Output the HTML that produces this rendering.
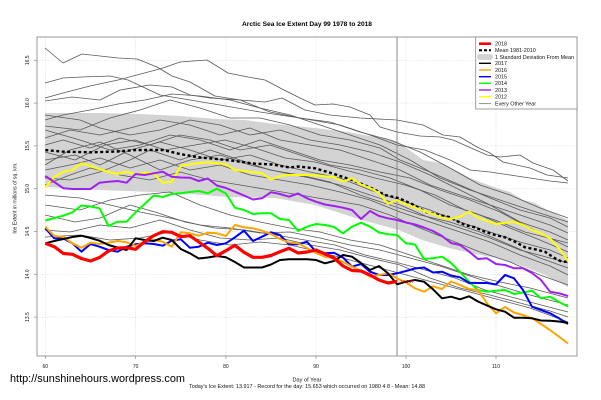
<!DOCTYPE html>
<html><head><meta charset="utf-8"><style>
html,body{margin:0;padding:0;background:#fff;}
svg{display:block;font-family:"Liberation Sans",Arial,sans-serif;}
</style></head><body>
<svg width="601" height="400" viewBox="0 0 601 400" xmlns="http://www.w3.org/2000/svg">
<rect x="0" y="0" width="601" height="400" fill="#fff"/>
<!-- title -->
<text x="307" y="26" font-size="6.6" font-weight="bold" text-anchor="middle" textLength="130" lengthAdjust="spacingAndGlyphs">Arctic Sea Ice Extent Day 99 1978 to 2018</text>

<!-- std band -->
<polygon fill="#d3d3d3" points="45.3,113 100,113 140,114 180,116 217,119 245,120 275,124 315,128 348,132 397,141 423,160 440,163 457,171 470,178 480,182 497,188 510,192 523,200 535,203 547,210 568,220 568,287 545,275 520,265 497,258 480,255 449,248 422,240 399,230 362,220 315,205 275,198 228,197 177,193 100,190 45.3,187"/>

<!-- grid -->
<g stroke="#d8d8d8" stroke-width="0.7" stroke-dasharray="1,1.5">
<line x1="45.3" y1="37" x2="45.3" y2="356"/>
<line x1="135.6" y1="37" x2="135.6" y2="356"/>
<line x1="225.9" y1="37" x2="225.9" y2="356"/>
<line x1="316" y1="37" x2="316" y2="356"/>
<line x1="406" y1="37" x2="406" y2="356"/>
<line x1="496" y1="37" x2="496" y2="356"/>
<line x1="37" y1="60.3" x2="577" y2="60.3"/>
<line x1="37" y1="103.1" x2="577" y2="103.1"/>
<line x1="37" y1="145.9" x2="577" y2="145.9"/>
<line x1="37" y1="188.7" x2="577" y2="188.7"/>
<line x1="37" y1="231.5" x2="577" y2="231.5"/>
<line x1="37" y1="274.3" x2="577" y2="274.3"/>
<line x1="37" y1="317.1" x2="577" y2="317.1"/>
</g>

<!-- gray every-other-year lines -->
<g fill="none" stroke="#595959" stroke-width="0.8" stroke-linejoin="round">
<polyline points="45,48 63,63 82,54 100,56 118,58 137,59 157,67 172,76 190,82 215,96 240,100 265,102 282,98 305,110 330,115 360,118 397,120 423,125 443,135 460,137 477,147 490,153 503,162 530,168 547,175 568,178"/>
<polyline points="45,98 63,93 90,86 118,80 137,75 163,68 180,62 207,60 228,73 248,77 265,80 282,89 300,98 315,105 333,104 350,107 370,115 380,127 397,132 420,136 440,137 453,140 487,155 500,157 520,155 533,163 553,170 568,181"/>
<polyline points="45,83 63,78 82,77 110,76 128,80 160,95 190,100 220,105 260,112 300,118 340,125 370,135 397,145 425,150 450,160 470,170 490,172 510,175 530,178 550,181 568,183"/>
<polyline points="45,101 72,97 100,100 120,90 150,85 172,87 190,95 210,98 240,100 270,112 300,118 330,122 360,132 390,140 420,152 450,168 480,185 510,195 540,208 568,218"/>
<polyline points="45,120 63,115 90,110 118,104 145,100 172,94 200,96 230,100 260,108 290,115 320,125 350,135 380,145 410,160 440,178 470,190 500,200 530,210 568,222"/>
<polyline points="45,126 80,130 110,118 140,110 170,100 200,108 230,118 260,118 290,125 320,135 350,140 380,148 400,160 430,172 460,185 490,198 520,210 550,218 568,227"/>
<polyline points="45,115 80,120 100,128 130,135 160,130 190,120 220,125 250,135 280,130 310,140 340,145 370,152 400,162 430,175 460,190 490,205 520,215 550,225 568,233"/>
<polyline points="45,138 70,130 100,135 130,128 160,120 190,125 220,135 250,128 280,140 310,145 340,150 370,160 400,170 430,185 460,195 490,205 520,222 550,232 568,240"/>
<polyline points="45,130 80,140 110,150 140,145 170,135 200,140 230,150 260,140 290,150 320,160 350,165 380,172 410,178 440,190 470,200 500,212 530,228 568,247"/>
<polyline points="45,145 63,140 90,148 120,138 150,145 180,135 210,140 240,150 270,145 300,155 330,165 360,170 390,178 420,190 450,205 480,215 510,228 540,240 568,252"/>
<polyline points="45,160 75,155 100,165 130,150 160,142 190,150 220,160 250,155 280,165 310,172 340,178 370,190 400,200 430,210 460,222 490,232 520,242 550,250 568,258"/>
<polyline points="45,178 70,180 100,172 130,160 150,150 180,160 210,150 240,160 270,170 300,175 330,182 360,195 390,205 420,215 450,222 480,232 510,245 540,258 568,268"/>
<polyline points="45,170 70,165 100,158 130,168 160,160 190,170 220,165 250,175 280,180 310,185 340,192 370,200 400,212 430,222 460,232 490,242 520,255 550,266 568,275"/>
<polyline points="45,185 70,175 90,168 120,175 150,180 180,172 210,180 240,185 270,190 300,195 330,200 360,205 390,215 420,228 450,240 480,252 510,262 540,275 568,285"/>
<polyline points="45,152 75,160 105,145 135,140 165,150 195,145 225,140 255,148 285,158 315,162 345,170 375,178 405,185 435,195 465,210 495,220 525,232 568,243"/>
<polyline points="45,165 70,150 100,142 130,155 160,170 190,160 220,155 250,165 280,172 310,178 340,185 370,195 400,205 430,218 460,228 490,238 520,250 550,258 568,263"/>
<polyline points="45,205 80,210 110,200 140,195 170,192 200,205 230,215 260,222 290,228 320,232 350,240 380,245 410,255 440,265 470,275 500,282 530,288 568,298"/>
<polyline points="45,195 80,198 110,205 140,212 170,218 200,225 230,228 260,233 290,232 320,238 350,245 380,250 410,258 440,266 470,276 500,286 530,295 568,305"/>
<polyline points="45,215 75,222 100,218 130,205 155,212 185,222 215,228 245,230 275,235 305,240 335,245 365,255 395,262 425,270 455,278 485,290 515,298 545,306 568,312"/>
<polyline points="45,230 70,232 100,225 130,228 160,220 190,230 220,238 250,240 280,238 310,245 340,250 370,258 400,265 430,278 460,288 490,295 520,303 550,311 568,317"/>
<polyline points="45,237 80,235 110,240 140,238 170,232 200,240 230,245 260,242 290,245 320,252 350,260 380,268 410,276 440,284 470,292 500,300 530,308 568,322"/>
</g>

<!-- day 99 vertical line -->
<line x1="397" y1="37" x2="397" y2="356" stroke="#888" stroke-width="1"/>

<!-- mean -->
<polyline fill="none" stroke="#000" stroke-width="2.4" stroke-dasharray="3,2.5" points="45.3,150 63.4,151.7 91,152.3 117,151.5 136,150 163,150 180,154 200,157.5 217,159 235,161 253,163.5 272,164.5 290,167.5 298,166.5 315,168.3 332,173.3 352,180 372,188.3 385,195 399,198.3 412,204 425,211.7 439,215 449,217 465,225 475,227.3 485,231.7 495,235 505,237.3 515,241.7 525,247.3 535,249.3 545,251.7 555,258.3 562,261.7 568,261.7"/>

<g fill="none" stroke-width="2" stroke-linejoin="round">
<!-- 2012 yellow -->
<polyline stroke="#ffff00" points="45.3,187.3 54.3,177 63.4,171.7 72.4,170 81.4,163.3 90.5,166 99.5,169.3 108.5,172 117.5,174 126.6,171.7 135.6,174.3 144.6,172.7 153.7,173.3 162.7,182.7 171.7,181.7 180.8,166 189.8,164.3 198.8,163.3 207.8,162.3 216.9,163.3 225.9,164.3 234.9,170 244,171 253,172.3 262,173.3 271,179.3 280,176 289,175 298,175 307,175 316,175.5 325,176.3 334,177 343,181.7 352,178.3 361,184.5 370,188 379,193 388,204 397,200 406,204 415,207.5 424,211 433,214 442,217.5 451,219 460,216.7 469,211.7 478,217.5 487,221 496,224 505,222.7 514,221.7 523,225 532,230 541,233.3 550,238.3 559,248.3 568,261"/>
<!-- 2013 purple -->
<polyline stroke="#a020f0" points="45.3,176 54.3,182 63.4,188.3 72.4,189 81.4,189 90.5,189 99.5,182.7 108.5,181.7 117.5,181 126.6,182.7 135.6,174 144.6,175 153.7,173.3 162.7,171.7 171.7,176.7 180.8,177.5 189.8,177.7 198.8,181 207.8,178.5 216.9,185.5 225.9,188 234.9,191.7 244,195.5 253,199.5 262,198.3 271,192.2 280,194 289,196.7 298,193.5 307,198.3 316,201.7 325,204.5 334,206 343,207.7 352,210 361,219 370,211 379,216 388,218.3 397,220 406,222.5 415,224.5 424,227.5 433,231 442,236 451,243 460,245 469,251.5 478,259 487,258.3 496,264 505,265 514,268.3 523,268.3 532,273 541,280 550,291.7 559,293.3 568,296"/>
<!-- 2014 green -->
<polyline stroke="#00ff00" points="45.3,220.5 54.3,218 63.4,215.7 72.4,212.3 81.4,205.5 90.5,206.5 99.5,208.3 108.5,226 117.5,221.7 126.6,221.7 135.6,212.3 144.6,204 153.7,195.5 162.7,197 171.7,194 180.8,193.3 189.8,192 198.8,191 207.8,193.3 216.9,188.7 225.9,193.5 234.9,207.7 244,210 253,214 262,213.3 271,213.3 280,219 289,220 298,231 307,226.7 316,224 325,225 334,227 343,233.3 352,226.7 361,222.7 370,226.7 379,232.5 388,234.3 397,235 406,243.3 415,244.5 424,259 433,258.3 442,256.7 451,263 460,272 469,281.7 478,290 487,291.7 496,290.7 505,290 514,294 523,292.5 532,290.7 541,298.3 550,296.7 559,302 568,306.5"/>
<!-- 2015 blue -->
<polyline stroke="#0000ff" points="45.3,228.3 54.3,238.3 63.4,238.5 72.4,243.3 81.4,251.7 90.5,244 99.5,246.7 108.5,250 117.5,251.7 126.6,246.7 135.6,244.3 144.6,243.3 153.7,244 162.7,245.7 171.7,240.7 180.8,239.3 189.8,247.7 198.8,246.7 207.8,242.7 216.9,245 225.9,243.3 234.9,237.3 244,230.7 253,241 262,236.7 271,232.3 280,235 289,244.3 298,244.3 307,241.7 316,251.7 325,253.3 334,252.7 343,257.5 352,266.7 361,264 370,271.7 379,275 388,275 397,273.3 406,271 415,268.5 424,267.5 433,272.5 442,271.7 451,275.5 460,277.3 469,282.7 478,283 487,283 496,284.5 505,275 514,278.3 523,290 532,306.7 541,310 550,313.3 559,318.3 568,324"/>
<!-- 2016 orange -->
<polyline stroke="#ffa500" points="45.3,226.7 54.3,236 63.4,237 72.4,243.3 81.4,247.7 90.5,242.7 99.5,244 108.5,242.7 117.5,241 126.6,242.3 135.6,246 144.6,241.7 153.7,240 162.7,241.7 171.7,246.7 180.8,232.3 189.8,233.3 198.8,235.7 207.8,232.7 216.9,233.3 225.9,236 234.9,225 244,227.3 253,228.3 262,230.7 271,234 280,239 289,242.5 298,243.3 307,248 316,253 325,256.7 334,258 343,261.7 352,266.7 361,271 370,276.7 379,275 388,273.3 397,278.3 406,282.5 415,288.3 424,291.7 433,286.3 442,289 451,281.5 460,285 469,289 478,290 487,303.3 496,313.3 505,307 514,312.5 523,315 532,318.3 541,324 550,330 559,336.7 568,343.5"/>
<!-- 2017 black -->
<polyline stroke="#000" points="45.3,243.3 54.3,241 63.4,239 72.4,237 81.4,235.7 90.5,238 99.5,240.7 108.5,245 117.5,247.5 126.6,250 135.6,238.3 144.6,240 153.7,241 162.7,237.7 171.7,240 180.8,249 189.8,253.3 198.8,258.5 207.8,257.5 216.9,256 225.9,257.3 234.9,262 244,267.5 253,267.5 262,267.5 271,264.5 280,260 289,259.3 298,259.3 307,259.3 316,260 325,263.3 334,261 343,255 352,256.7 361,263 370,270 379,266 388,273.3 397,284.3 406,281.7 415,280 424,281.7 433,289.3 442,298.3 451,296.7 460,299.3 469,296.3 478,301.5 487,305.5 496,309.3 505,311.7 514,317.7 523,317.7 532,318.3 541,320.5 550,320.7 559,321.5 568,323"/>
</g>
<!-- 2018 red -->
<polyline fill="none" stroke="#ff0000" stroke-width="3.2" stroke-linejoin="round" points="45.3,243.3 54.3,246.7 63.4,253.5 72.4,254.3 81.4,258.5 90.5,261 99.5,257.5 108.5,251 117.5,248 126.6,247.7 135.6,249.3 144.6,241.7 153.7,235.7 162.7,231.7 171.7,232.3 180.8,236.7 189.8,235.7 198.8,242 207.8,248.3 216.9,255.7 225.9,250.7 234.9,245.3 244,252.3 253,257.3 262,257.3 271,255.5 280,251.7 289,248.3 298,253 307,252 316,250 325,254 334,258 343,266 352,270.5 361,271 370,275 379,280 388,283 397,281.4"/>
<text x="400" y="283" font-size="4.5" fill="#ff0000">13.917</text>

<!-- frame -->
<rect x="37" y="37" width="540" height="319" fill="none" stroke="#999" stroke-width="1"/>

<!-- ticks -->
<g stroke="#999" stroke-width="0.8">
<line x1="45.3" y1="356" x2="45.3" y2="359"/>
<line x1="135.6" y1="356" x2="135.6" y2="359"/>
<line x1="225.9" y1="356" x2="225.9" y2="359"/>
<line x1="316" y1="356" x2="316" y2="359"/>
<line x1="406" y1="356" x2="406" y2="359"/>
<line x1="496" y1="356" x2="496" y2="359"/>
<line x1="34" y1="60.3" x2="37" y2="60.3"/>
<line x1="34" y1="103.1" x2="37" y2="103.1"/>
<line x1="34" y1="145.9" x2="37" y2="145.9"/>
<line x1="34" y1="188.7" x2="37" y2="188.7"/>
<line x1="34" y1="231.5" x2="37" y2="231.5"/>
<line x1="34" y1="274.3" x2="37" y2="274.3"/>
<line x1="34" y1="317.1" x2="37" y2="317.1"/>
</g>
<g font-size="5" fill="#111" text-anchor="middle">
<text x="45.3" y="368">60</text>
<text x="135.6" y="368">70</text>
<text x="225.9" y="368">80</text>
<text x="316" y="368">90</text>
<text x="406" y="368">100</text>
<text x="496" y="368">110</text>
<text transform="translate(29,60.3) rotate(-90)">16.5</text>
<text transform="translate(29,103.1) rotate(-90)">16.0</text>
<text transform="translate(29,145.9) rotate(-90)">15.5</text>
<text transform="translate(29,188.7) rotate(-90)">15.0</text>
<text transform="translate(29,231.5) rotate(-90)">14.5</text>
<text transform="translate(29,274.3) rotate(-90)">14.0</text>
<text transform="translate(29,317.1) rotate(-90)">13.5</text>
</g>
<text transform="translate(16.5,198) rotate(-90)" font-size="5.2" text-anchor="middle" fill="#111">Ice Extent in millions of sq. km.</text>

<!-- bottom text -->
<text x="307" y="381.5" font-size="5.5" text-anchor="middle" fill="#111" textLength="29" lengthAdjust="spacingAndGlyphs">Day of Year</text>
<text x="307" y="388" font-size="5.5" text-anchor="middle" fill="#111" textLength="236" lengthAdjust="spacingAndGlyphs">Today's Ice Extent: 13.917  - Record for the day: 15.653 which occurred on 1980 4 8  - Mean: 14.88</text>
<text x="10" y="382" font-size="11" fill="#000" textLength="175" lengthAdjust="spacingAndGlyphs">http://sunshinehours.wordpress.com</text>

<!-- legend -->
<rect x="475.7" y="37" width="101.3" height="72" fill="#fff" stroke="#8a8a8a" stroke-width="0.8"/>
<line x1="479" y1="43.7" x2="491" y2="43.7" stroke="#ff0000" stroke-width="2.6"/>
<line x1="479" y1="50.3" x2="491" y2="50.3" stroke="#000" stroke-width="2" stroke-dasharray="3,2"/>
<rect x="477" y="54" width="16" height="6" rx="3" fill="#d3d3d3"/>
<line x1="479" y1="63.3" x2="491" y2="63.3" stroke="#000" stroke-width="1.4"/>
<line x1="479" y1="70" x2="491" y2="70" stroke="#ffa500" stroke-width="1.4"/>
<line x1="479" y1="76.7" x2="491" y2="76.7" stroke="#0000ff" stroke-width="1.4"/>
<line x1="479" y1="83.3" x2="491" y2="83.3" stroke="#00ff00" stroke-width="1.4"/>
<line x1="479" y1="90" x2="491" y2="90" stroke="#a020f0" stroke-width="1.4"/>
<line x1="479" y1="96.7" x2="491" y2="96.7" stroke="#ffff00" stroke-width="1.4"/>
<line x1="479" y1="103.7" x2="491" y2="103.7" stroke="#666" stroke-width="0.7"/>
<g font-size="5.4" fill="#111">
<text x="495" y="45.6">2018</text>
<text x="495" y="52.2">Mean 1981-2010</text>
<text x="495" y="58.9" textLength="79" lengthAdjust="spacingAndGlyphs">1 Standard Deviation From Mean</text>
<text x="495" y="65.2">2017</text>
<text x="495" y="71.9">2016</text>
<text x="495" y="78.6">2015</text>
<text x="495" y="85.2">2014</text>
<text x="495" y="91.9">2013</text>
<text x="495" y="98.6">2012</text>
<text x="495" y="105.6">Every Other Year</text>
</g>
</svg>
</body></html>
